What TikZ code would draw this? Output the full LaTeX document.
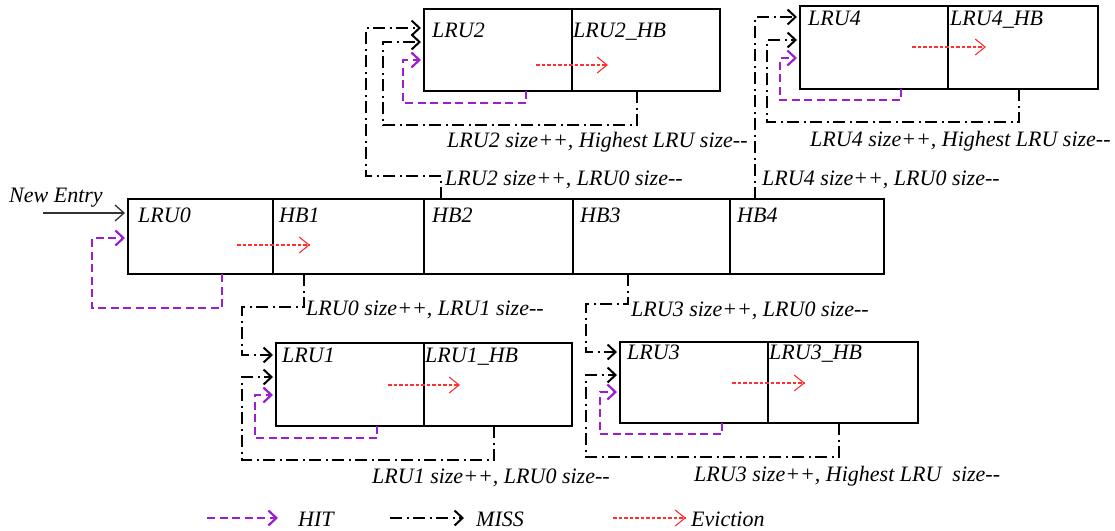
\documentclass[tikz,border=0pt]{standalone}
\usepackage{fontspec}
\setmainfont{Liberation Serif}
\usetikzlibrary{arrows.meta}
\definecolor{hitc}{HTML}{9A1FCF}
\definecolor{evc}{HTML}{FF3030}
\definecolor{entc}{HTML}{333333}
\newcommand{\dd}{{-}{-}}
\begin{document}
\begin{tikzpicture}[x=1pt,y=-1pt,
  cell/.style={draw,line width=2pt,inner sep=0pt,outer sep=0pt},
  txt/.style={font=\fontsize{22}{26}\selectfont\itshape,inner sep=0pt,anchor=base west},
  hit/.style={draw=hitc,line width=2.2pt,dash pattern=on 8pt off 4.5pt,
    -{Straight Barb[length=8pt,width=15pt]},shorten >=3pt},
  miss/.style={draw=black,line width=2pt,dash pattern=on 12pt off 4.5pt on 2pt off 4.5pt,
    -{Straight Barb[length=8pt,width=15pt]},shorten >=3pt},
  evict/.style={draw=evc,line width=1.1pt,dash pattern=on 3.5pt off 2pt,
    -{Straight Barb[length=10pt,width=16pt]}},
  entry/.style={draw=entc,line width=1.3pt,-{Straight Barb[length=9pt,width=16pt]},shorten >=3pt}]
\useasboundingbox (0,0) rectangle (1115,530);

% main row
\node[cell,minimum width=145pt,minimum height=75pt] (lru0) at (200.5,236.5) {};
\node[cell,minimum width=151pt,minimum height=75pt] (hb1) at (348.5,236.5) {};
\node[cell,minimum width=149pt,minimum height=75pt] (hb2) at (498.5,236.5) {};
\node[cell,minimum width=157pt,minimum height=75pt] (hb3) at (651.5,236.5) {};
\node[cell,minimum width=154pt,minimum height=75pt] (hb4) at (807,236.5) {};
\node[txt] (tlru0) at (138,222) {LRU0};
\node[txt] (thb1) at (279,222) {HB1};
\node[txt] (thb2) at (432,222) {HB2};
\node[txt] (thb3) at (580,222) {HB3};
\node[txt] (thb4) at (737,222) {HB4};

% LRU2
\node[cell,minimum width=148pt,minimum height=82pt] (lru2) at (498,50) {};
\node[cell,minimum width=148pt,minimum height=82pt] (lru2hb) at (646,50) {};
\node[txt] (tlru2) at (432,37) {LRU2};
\node[txt] (tlru2hb) at (573,37) {LRU2\_HB};

% LRU4
\node[cell,minimum width=148pt,minimum height=83pt] (lru4) at (874,47.5) {};
\node[cell,minimum width=150pt,minimum height=83pt] (lru4hb) at (1023,47.5) {};
\node[txt] (tlru4) at (808,25) {LRU4};
\node[txt] (tlru4hb) at (950,25) {LRU4\_HB};

% LRU1
\node[cell,minimum width=148pt,minimum height=83pt] (lru1) at (350,384.5) {};
\node[cell,minimum width=148pt,minimum height=83pt] (lru1hb) at (498,384.5) {};
\node[txt] (tlru1) at (282,362) {LRU1};
\node[txt] (tlru1hb) at (425,362) {LRU1\_HB};

% LRU3
\node[cell,minimum width=148pt,minimum height=81pt] (lru3) at (694,382.5) {};
\node[cell,minimum width=150pt,minimum height=81pt] (lru3hb) at (843,382.5) {};
\node[txt] (tlru3) at (627,359) {LRU3};
\node[txt] (tlru3hb) at (769,359) {LRU3\_HB};

% annotations
\node[txt] (newentry) at (9,202) {New Entry};
\node[txt] (a2h) at (447,147) {LRU2 size++, Highest LRU size\dd};
\node[txt] (a20) at (445,185) {LRU2 size++, LRU0 size\dd};
\node[txt] (a4h) at (810,146) {LRU4 size++, Highest LRU size\dd};
\node[txt] (a40) at (762,185) {LRU4 size++, LRU0 size\dd};
\node[txt] (a01) at (306,315) {LRU0 size++, LRU1 size\dd};
\node[txt] (a10) at (372,483) {LRU1 size++, LRU0 size\dd};
\node[txt] (a30) at (631,316) {LRU3 size++, LRU0 size\dd};
\node[txt] (a3h) at (694,481) {LRU3 size++, Highest LRU\ \ size\dd};

% new entry
\draw[entry] (43,213) -- (lru0.west |- 0,213);

% LRU0
\draw[hit] (222,0 |- lru0.south) -- (222,308) -- (92,308) -- (92,238) -- (lru0.west |- 0,238);
\draw[evict] (237,245) -- (310,245);

% LRU2
\draw[hit] (526,0 |- lru2.south) -- (526,103) -- (403,103) -- (403,60) -- (lru2.west |- 0,60);
\draw[miss] (637,0 |- lru2hb.south) -- (637,125) -- (383,125) -- (383,42) -- (lru2.west |- 0,42);
\draw[miss] (441,0 |- hb2.north) -- (441,176) -- (366,176) -- (366,28) -- (lru2.west |- 0,28);
\draw[evict] (536,65) -- (608,65);

% LRU4
\draw[hit] (901,0 |- lru4.south) -- (901,100) -- (780,100) -- (780,58) -- (lru4.west |- 0,58);
\draw[miss] (1019,0 |- lru4hb.south) -- (1019,122) -- (767,122) -- (767,40) -- (lru4.west |- 0,40);
\draw[miss] (755,0 |- hb4.north) -- (755,17) -- (lru4.west |- 0,17);
\draw[evict] (912,47) -- (986,47);

% LRU1
\draw[hit] (377,0 |- lru1.south) -- (377,438) -- (255,438) -- (255,395) -- (lru1.west |- 0,395);
\draw[miss] (494,0 |- lru1hb.south) -- (494,460) -- (242,460) -- (242,377) -- (lru1.west |- 0,377);
\draw[miss] (304,0 |- hb1.south) -- (304,307) -- (242,307) -- (242,355) -- (lru1.west |- 0,355);
\draw[evict] (388,385) -- (460,385);

% LRU3
\draw[hit] (722,0 |- lru3.south) -- (722,434) -- (600,434) -- (600,392) -- (lru3.west |- 0,392);
\draw[miss] (839,0 |- lru3hb.south) -- (839,457) -- (586,457) -- (586,375) -- (lru3.west |- 0,375);
\draw[miss] (628,0 |- hb3.south) -- (628,304) -- (586,304) -- (586,352) -- (lru3.west |- 0,352);
\draw[evict] (732,383) -- (805,383);

% legend
\coordinate (lh1) at (207,518); \coordinate (lh2) at (281,518);
\coordinate (lm1) at (390,518); \coordinate (lm2) at (467,518);
\coordinate (le1) at (613,518); \coordinate (le2) at (686,518);
\draw[hit] (lh1) -- (lh2);
\draw[miss] (lm1) -- (lm2);
\draw[evict] (le1) -- (le2);
\node[txt] (lhit) at (298,526) {HIT};
\node[txt] (lmiss) at (476,526) {MISS};
\node[txt] (lev) at (691,526) {Eviction};
\end{tikzpicture}
\end{document}
